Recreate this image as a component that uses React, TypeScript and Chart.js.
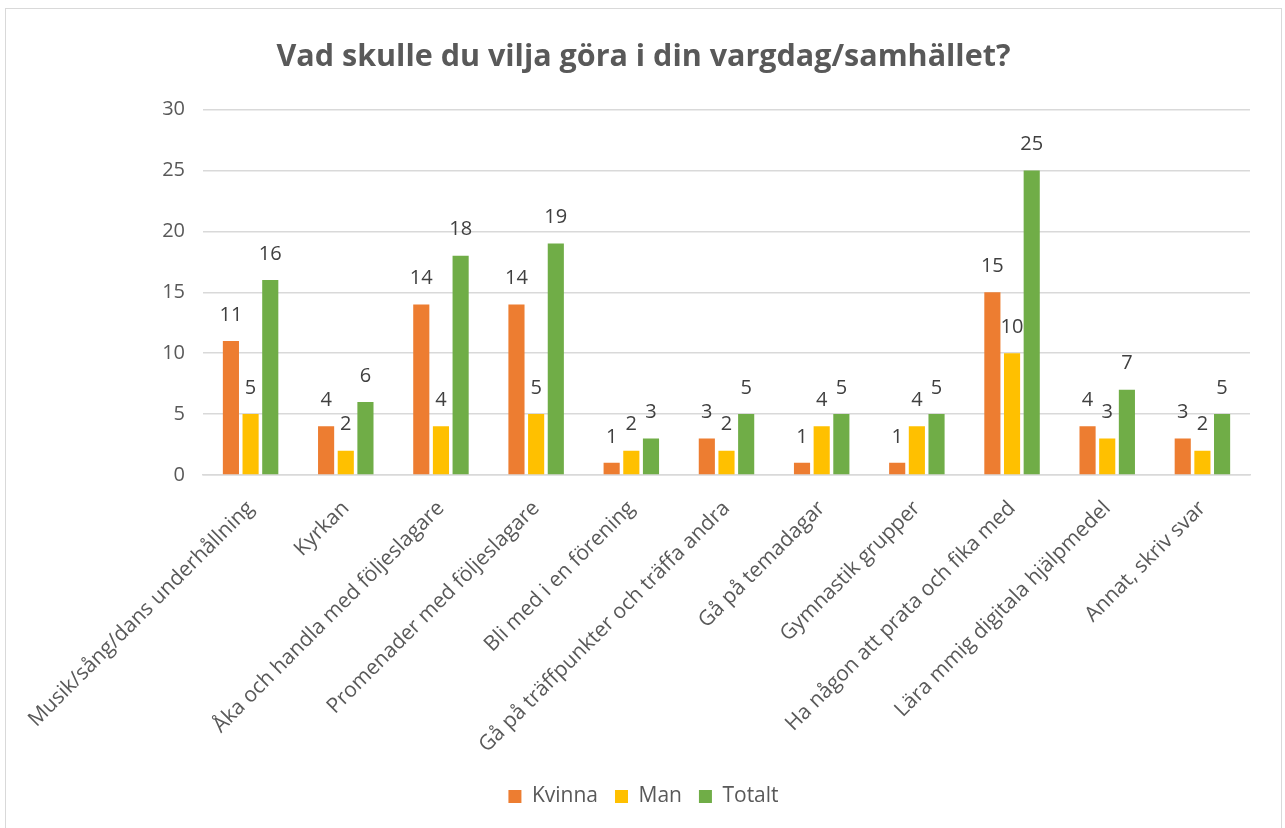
import React, { useEffect, useRef } from "react";
import { Chart, registerables } from "chart.js";

Chart.register(...registerables);

const categories = [
  "Musik/sång/dans underhållning",
  "Kyrkan",
  "Åka och handla med följeslagare",
  "Promenader med följeslagare",
  "Bli med i en förening",
  "Gå på träffpunkter och träffa andra",
  "Gå på temadagar",
  "Gymnastik grupper",
  "Ha någon att prata och fika med",
  "Lära mmig digitala hjälpmedel",
  "Annat, skriv svar",
];
const kvinna = [11, 4, 14, 14, 1, 3, 1, 1, 15, 4, 3];
const man = [5, 2, 4, 5, 2, 2, 4, 4, 10, 3, 2];
const totalt = [16, 6, 18, 19, 3, 5, 5, 5, 25, 7, 5];
const seriesNames = ["Kvinna", "Man", "Totalt"];
const colors = ["#ED7D31", "#FFC000", "#70AD47"];
const yTicks = [0, 5, 10, 15, 20, 25, 30];
const title = "Vad skulle du vilja göra i din vargdag/samhället?";

const FONT = "'Open Sans', 'Noto Sans', sans-serif";

const labelPlugin = {
  id: "valueLabels",
  afterDatasetsDraw(chart: any) {
    const ctx = chart.ctx;
    ctx.save();
    ctx.font = `20px ${FONT}`;
    ctx.fillStyle = "#404040";
    ctx.textAlign = "center";
    ctx.textBaseline = "middle";
    chart.data.datasets.forEach((ds: any, i: number) => {
      const meta = chart.getDatasetMeta(i);
      meta.data.forEach((bar: any, j: number) => {
        ctx.fillText(String(ds.data[j]), bar.x, bar.y - 26);
      });
    });
    ctx.restore();
  },
};

export default function App() {
  const ref = useRef<HTMLCanvasElement>(null);
  useEffect(() => {
    if (!ref.current) return;
    const datasets = [kvinna, man, totalt].map((d, i) => ({
      label: seriesNames[i],
      data: d,
      backgroundColor: colors[i],
      borderWidth: 0,
      categoryPercentage: 0.62,
      barPercentage: 0.82,
      yAxisID: "y",
    }));
    const chart = new Chart(ref.current, {
      type: "bar",
      data: { labels: categories, datasets },
      plugins: [labelPlugin],
      options: {
        animation: false,
        responsive: false,
        maintainAspectRatio: false,
        layout: { padding: { left: 0, right: 0, top: 0, bottom: 20 } },
        plugins: {
          title: {
            display: true,
            text: title,
            color: "#595959",
            font: { family: FONT, size: 30.5, weight: "bold" },
            padding: { top: 30, bottom: 34 },
          },
          legend: {
            position: "bottom",
            labels: {
              color: "#595959",
              font: { family: FONT, size: 21 },
              boxWidth: 13,
              boxHeight: 13,
              padding: 17,
            },
          },
          tooltip: { enabled: false },
        },
        scales: {
          y: {
            min: 0,
            max: 30,
            afterBuildTicks: (axis: any) => {
              axis.ticks = yTicks.map((v) => ({ value: v }));
            },
            afterFit: (axis: any) => {
              axis.width = 197;
            },
            grid: { color: "#d9d9d9", lineWidth: 1.5, drawTicks: false },
            border: { display: false },
            ticks: {
              color: "#595959",
              font: { family: FONT, size: 20 },
              padding: 18,
            },
          },
          yRight: {
            position: "right",
            min: 0,
            max: 30,
            grid: { display: false, drawTicks: false },
            border: { display: false },
            ticks: { display: false },
            afterFit: (axis: any) => {
              axis.width = 31;
            },
          },
          x: {
            grid: { display: false },
            border: { color: "#d9d9d9", width: 1.5 },
            afterFit: (axis: any) => {
              axis.height = 294;
            },
            ticks: {
              color: "#595959",
              font: { family: FONT, size: 21 },
              maxRotation: 45,
              minRotation: 45,
              autoSkip: false,
              padding: 13,
            },
          },
        },
      },
    });
    return () => chart.destroy();
  }, []);
  return (
    <div
      style={{
        position: "fixed",
        left: 5,
        top: 8,
        width: 1277,
        height: 830,
        border: "1px solid #d9d9d9",
        background: "#fff",
        boxSizing: "border-box",
      }}
    >
      <canvas ref={ref} width={1275} height={828} style={{ display: "block" }} />
    </div>
  );
}
